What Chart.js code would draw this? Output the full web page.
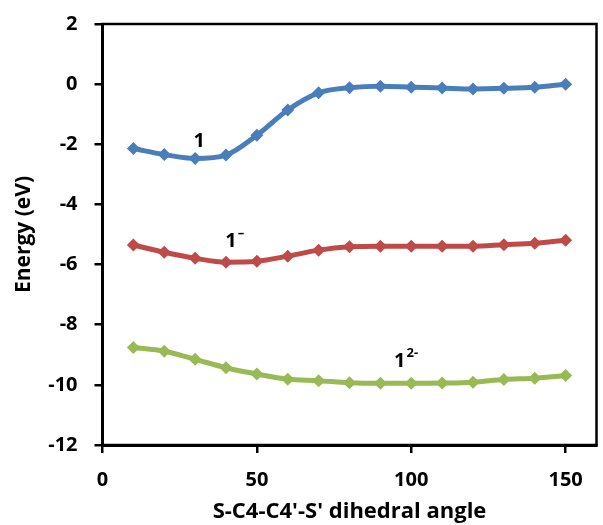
<!DOCTYPE html>
<html>
<head>
<meta charset="utf-8">
<script src="https://cdn.jsdelivr.net/npm/chart.js@4.4.1/dist/chart.umd.min.js"></script>
<style>
html,body{margin:0;padding:0;background:#fff;}
#wrap{width:603px;height:525px;position:relative;}
</style>
</head>
<body>
<div id="wrap"><canvas id="c" width="603" height="525"></canvas></div>
<script>
const angles = [10,20,30,40,50,60,70,80,90,100,110,120,130,140,150];
const neutral = [-2.14,-2.34,-2.47,-2.36,-1.70,-0.86,-0.29,-0.12,-0.07,-0.10,-0.13,-0.16,-0.14,-0.10,0.00];
const anion = [-5.35,-5.59,-5.79,-5.92,-5.89,-5.72,-5.52,-5.41,-5.39,-5.39,-5.39,-5.39,-5.34,-5.29,-5.19];
const dianion = [-8.76,-8.88,-9.15,-9.43,-9.64,-9.81,-9.86,-9.93,-9.95,-9.95,-9.94,-9.91,-9.82,-9.78,-9.69];
const xTicks = [0,50,100,150];
const yTicks = [-12,-10,-8,-6,-4,-2,0,2];
const seriesNames = ['1','1-','12-'];
// annotation labels: [base, superscript, x, y]
const annotations = [
  ['1','',31.3,-1.90],
  ['1','\u2013',41.6,-5.22],
  ['1','2-',96.3,-9.21]
];

const FONT = "'Open Sans', sans-serif";

function toPts(vals){ return angles.map((a,i)=>({x:a,y:vals[i]})); }
function ds(label, vals, color){
  return {label, data: toPts(vals), borderColor: color, backgroundColor: color,
    borderWidth: 5, pointStyle: 'rectRot', pointRadius: 6.5, pointHoverRadius: 6.5,
    pointBorderWidth: 0, tension: 0.3, cubicInterpolationMode: 'monotone', clip: false};
}

const boxPlugin = {
  id: 'box',
  afterDraw(chart){
    const {ctx, chartArea: a} = chart;
    ctx.save();
    ctx.strokeStyle = '#000';
    ctx.lineWidth = 2.5;
    ctx.strokeRect(a.left, a.top, a.right - a.left, a.bottom - a.top);
    ctx.restore();
  }
};

const annPlugin = {
  id: 'ann',
  afterDatasetsDraw(chart){
    const {ctx} = chart;
    const xs = chart.scales.x, ys = chart.scales.y;
    ctx.save();
    ctx.fillStyle = '#000';
    annotations.forEach(([base, sup, x, y]) => {
      const px = xs.getPixelForValue(x), py = ys.getPixelForValue(y);
      ctx.font = "bold 20px " + FONT;
      ctx.textAlign = 'center';
      ctx.textBaseline = 'middle';
      ctx.fillText(base, px, py);
      const w = ctx.measureText(base).width;
      if (sup) {
        ctx.font = "bold 13px " + FONT;
        ctx.textAlign = 'left';
        ctx.fillText(sup, px + w/2 + 1, py - 8);
      }
    });
    ctx.restore();
  }
};

new Chart(document.getElementById('c'), {
  type: 'line',
  data: { datasets: [
    ds(seriesNames[0], neutral, '#4a7ebb'),
    ds(seriesNames[1], anion, '#be4b48'),
    ds(seriesNames[2], dianion, '#98b954')
  ]},
  options: {
    responsive: false,
    animation: false,
    devicePixelRatio: 1,
    layout: { padding: { left: 0, top: 24, right: 5, bottom: 0 } },
    plugins: { legend: { display: false }, tooltip: { enabled: false } },
    scales: {
      x: {
        type: 'linear', min: 0, max: 160,
        afterBuildTicks: s => { s.ticks = xTicks.map(v => ({value: v})); },
        afterFit: s => { s.height = 80; s.paddingLeft = 0; s.paddingRight = 0; },
        grid: { drawOnChartArea: false, drawTicks: true, tickLength: 8, color: '#000', lineWidth: 2.5 },
        border: { display: true, color: '#000', width: 3 },
        ticks: { color: '#000', font: { family: FONT, size: 20, weight: 'bold' }, padding: 15, maxRotation: 0 },
        title: { display: true, text: "S-C4-C4'-S' dihedral angle", color: '#000',
                 font: { family: FONT, size: 22, weight: 'bold' }, padding: { top: 0, bottom: 0 } }
      },
      y: {
        type: 'linear', min: -12, max: 2,
        afterBuildTicks: s => { s.ticks = yTicks.map(v => ({value: v})); },
        afterFit: s => { s.width = 102.5; s.paddingTop = 0; s.paddingBottom = 0; },
        grid: { drawOnChartArea: false, drawTicks: true, tickLength: 8, color: '#000', lineWidth: 2.5 },
        border: { display: true, color: '#000', width: 3 },
        ticks: { color: '#000', font: { family: FONT, size: 20, weight: 'bold' }, padding: 17 },
        title: { display: true, text: 'Energy (eV)', color: '#000',
                 font: { family: FONT, size: 21, weight: 'bold' }, padding: { top: 11, bottom: 0 } }
      }
    }
  },
  plugins: [boxPlugin, annPlugin]
});
</script>
</body>
</html>
